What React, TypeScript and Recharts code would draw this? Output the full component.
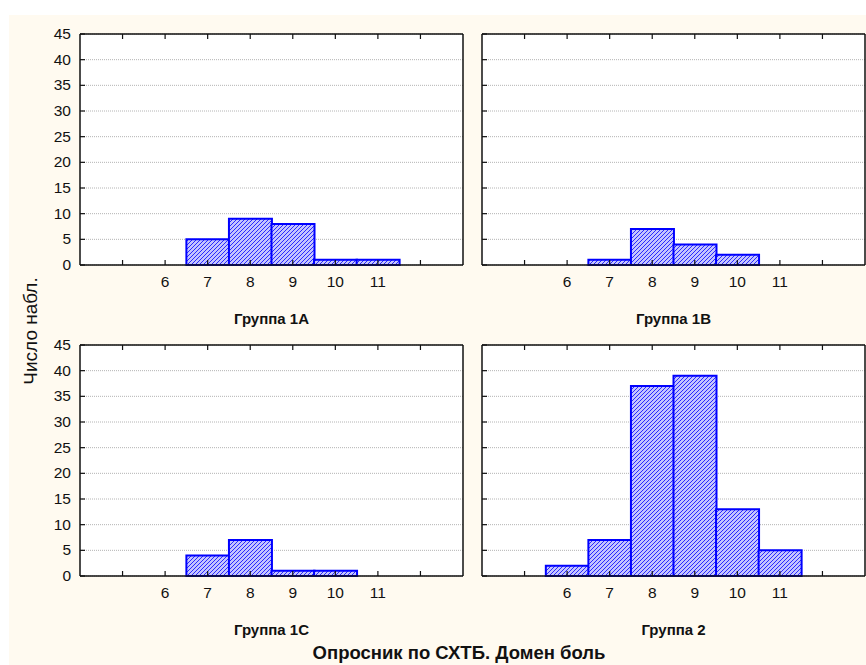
import React from 'react'
import { BarChart, Bar, XAxis, YAxis, CartesianGrid } from 'recharts'

// histogram bins (score values) and counts per group
const scores = [5, 6, 7, 8, 9, 10, 11, 12]
const labelledScores = [6, 7, 8, 9, 10, 11]
const countTicks = [0, 5, 10, 15, 20, 25, 30, 35, 40, 45]

const group1A = [null, null, 5, 9, 8, 1, 1, null]
const group1B = [null, null, 1, 7, 4, 2, null, null]
const group1C = [null, null, 4, 7, 1, 1, null, null]
const group2 = [null, 2, 7, 37, 39, 13, 5, null]

const groupTitles = ['Группа 1А', 'Группа 1В', 'Группа 1С', 'Группа 2']
const yLabel = 'Число набл.'
const xLabel = 'Опросник по СХТБ. Домен боль'

const FONT = '"Liberation Sans", Arial, sans-serif'
const PLOT_W = 383
const PLOT_H = 231
const LEFT_W = 80
const TOP_H = 34
const BOTTOM_H = 70
const INK = '#111'

interface PanelProps {
  id: string
  values: (number | null)[]
  title: string
  x: number
  y: number
  showY: boolean
}

function Panel({ id, values, title, x, y, showY }: PanelProps) {
  const data = scores.map((s, i) => ({ score: s, count: values[i] }))
  const pad = PLOT_W / 9 / 2

  const bottomTick = (p: any) => (
    <g>
      <line x1={p.x} x2={p.x} y1={p.y} y2={p.y - 5} stroke={INK} strokeWidth={1.2} />
      {labelledScores.includes(p.payload.value) && (
        <text x={p.x} y={p.y + 22} textAnchor="middle" fontSize={15.5} fill={INK} fontFamily={FONT}>
          {p.payload.value}
        </text>
      )}
    </g>
  )
  const topTick = (p: any) => (
    <line x1={p.x} x2={p.x} y1={p.y} y2={p.y + 5} stroke={INK} strokeWidth={1.2} />
  )
  const leftTick = (p: any) => (
    <g>
      <line x1={p.x} x2={p.x + 5} y1={p.y} y2={p.y} stroke={INK} strokeWidth={1.2} />
      {showY && (
        <text x={p.x - 9} y={p.y + 5} textAnchor="end" fontSize={15.5} fill={INK} fontFamily={FONT}>
          {p.payload.value}
        </text>
      )}
    </g>
  )
  const rightTick = (p: any) => (
    <line x1={p.x} x2={p.x - 5} y1={p.y} y2={p.y} stroke={INK} strokeWidth={1.2} />
  )

  return (
    <>
      <div style={{ position: 'absolute', left: x - LEFT_W, top: y - TOP_H }}>
        <BarChart
          width={LEFT_W + PLOT_W + 2}
          height={TOP_H + PLOT_H + BOTTOM_H}
          data={data}
          margin={{ top: 0, right: 0, bottom: 0, left: 0 }}
          barCategoryGap={0}
          barGap={0}
        >
          <defs>
            <pattern id={`hatch-${id}`} width={4} height={4} patternUnits="userSpaceOnUse">
              <rect width={4} height={4} fill="#c4c4ff" />
              <path d="M-1,1 l2,-2 M0,4 l4,-4 M3,5 l2,-2" stroke="#2a2aff" strokeWidth={1} />
            </pattern>
          </defs>
          <CartesianGrid vertical={false} fill="#fff" stroke="#b4b4b4" strokeDasharray="1 1" />
          <XAxis
            dataKey="score"
            height={BOTTOM_H}
            padding={{ left: pad, right: pad }}
            tickSize={0}
            tickMargin={0}
            tickLine={false}
            axisLine={{ stroke: INK, strokeWidth: 1.5 }}
            tick={bottomTick}
            interval={0}
          />
          <XAxis
            xAxisId="top"
            orientation="top"
            dataKey="score"
            height={TOP_H}
            padding={{ left: pad, right: pad }}
            tickSize={0}
            tickMargin={0}
            tickLine={false}
            axisLine={{ stroke: INK, strokeWidth: 1.5 }}
            tick={topTick}
            interval={0}
          />
          <YAxis
            type="number"
            width={LEFT_W}
            domain={[0, 45]}
            ticks={countTicks}
            tickSize={0}
            tickMargin={0}
            tickLine={false}
            axisLine={{ stroke: INK, strokeWidth: 1.5 }}
            tick={leftTick}
            interval={0}
          />
          <YAxis
            yAxisId="right"
            orientation="right"
            type="number"
            width={2}
            domain={[0, 45]}
            ticks={countTicks}
            tickSize={0}
            tickMargin={0}
            tickLine={false}
            axisLine={{ stroke: INK, strokeWidth: 1.5 }}
            tick={rightTick}
            interval={0}
          />
          <Bar
            dataKey="count"
            fill={`url(#hatch-${id})`}
            stroke="#0000ff"
            strokeWidth={2}
            isAnimationActive={false}
          />
        </BarChart>
      </div>
      <div
        style={{
          position: 'absolute',
          left: x + PLOT_W / 2,
          top: y + PLOT_H + 53,
          transform: 'translate(-50%, -50%)',
          fontFamily: FONT,
          fontWeight: 'bold',
          fontSize: 15,
          color: INK,
          whiteSpace: 'nowrap',
        }}
      >
        {title}
      </div>
    </>
  )
}

export default function App() {
  return (
    <div
      style={{
        position: 'absolute',
        left: 0,
        top: 0,
        width: 866,
        height: 665,
        background: '#fff',
        overflow: 'hidden',
        fontFamily: FONT,
      }}
    >
      <div style={{ position: 'absolute', left: 9, top: 15, right: 0, bottom: 0, background: '#fffaf0' }} />
      <Panel id="a" values={group1A} title={groupTitles[0]} x={80} y={34} showY />
      <Panel id="b" values={group1B} title={groupTitles[1]} x={482} y={34} showY={false} />
      <Panel id="c" values={group1C} title={groupTitles[2]} x={80} y={345} showY />
      <Panel id="d" values={group2} title={groupTitles[3]} x={482} y={345} showY={false} />
      <div
        style={{
          position: 'absolute',
          left: 31,
          top: 331,
          transform: 'translate(-50%, -50%) rotate(-90deg)',
          fontSize: 19,
          color: INK,
          whiteSpace: 'nowrap',
        }}
      >
        {yLabel}
      </div>
      <div
        style={{
          position: 'absolute',
          left: 459,
          top: 653,
          transform: 'translate(-50%, -50%)',
          fontSize: 18.5,
          fontWeight: 'bold',
          color: INK,
          whiteSpace: 'nowrap',
        }}
      >
        {xLabel}
      </div>
    </div>
  )
}
